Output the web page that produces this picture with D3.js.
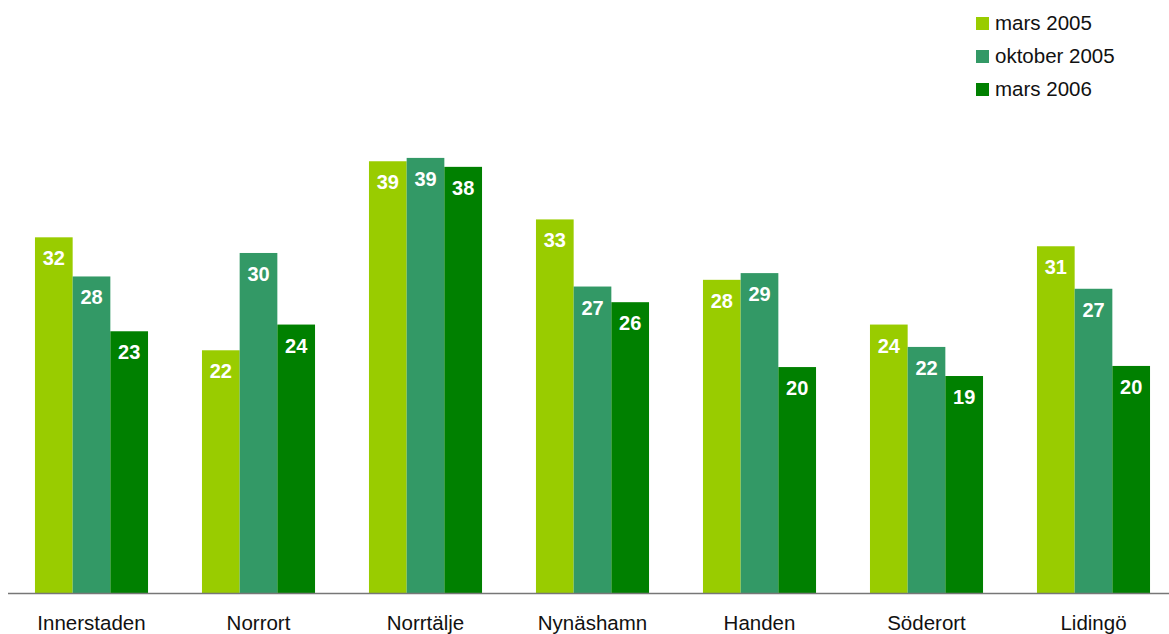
<!DOCTYPE html>
<html>
<head>
<meta charset="utf-8">
<script src="https://cdn.jsdelivr.net/npm/d3@7"></script>
<style>
  html, body { margin: 0; padding: 0; background: #fff; }
  svg { display: block; }
</style>
</head>
<body>
<svg id="chart" width="1169" height="634"></svg>
<script>
const categories = ["Innerstaden", "Norrort", "Norrtälje", "Nynäshamn", "Handen", "Söderort", "Lidingö"];
const seriesNames = ["mars 2005", "oktober 2005", "mars 2006"];
const seriesColors = ["#99cc00", "#339966", "#008000"];
const mars2005 = [31.8, 21.7, 38.6, 33.4, 28.0, 24.0, 31.0];
const oktober2005 = [28.3, 30.4, 38.9, 27.4, 28.6, 22.0, 27.2];
const mars2006 = [23.4, 24.0, 38.1, 26.0, 20.2, 19.4, 20.3];
const seriesValues = [mars2005, oktober2005, mars2006];

const svg = d3.select("#chart");
const baseY = 593;
const font = "'Liberation Sans', Arial, sans-serif";

const x0 = d3.scaleBand().domain(categories).range([8, 1177]).paddingInner(0.323).paddingOuter(0.1615);
const x1 = d3.scaleBand().domain(seriesNames).range([0, x0.bandwidth()]).padding(0);
const y = d3.scaleLinear().domain([0, 50]).range([baseY, baseY - 50 * 11.185]);

const data = [];
categories.forEach((c, i) => {
  seriesNames.forEach((s, j) => {
    data.push({ cat: c, series: s, value: seriesValues[j][i], color: seriesColors[j] });
  });
});

const g = svg.append("g");
g.selectAll("rect.bar").data(data).enter().append("rect")
  .attr("class", "bar")
  .attr("x", d => x0(d.cat) + x1(d.series))
  .attr("width", x1.bandwidth())
  .attr("y", d => y(d.value))
  .attr("height", d => baseY - y(d.value))
  .attr("fill", d => d.color);

g.selectAll("text.val").data(data).enter().append("text")
  .attr("class", "val")
  .attr("x", d => x0(d.cat) + x1(d.series) + x1.bandwidth() / 2)
  .attr("y", d => y(d.value) + 28)
  .attr("text-anchor", "middle")
  .attr("font-family", font)
  .attr("font-weight", "bold")
  .attr("font-size", "20px")
  .attr("fill", "#ffffff")
  .text(d => d3.format(".0f")(d.value));

// axis
const xAxis = d3.axisBottom(x0).tickSize(0).tickPadding(0);
const ax = svg.append("g").attr("transform", `translate(0,${baseY})`).call(xAxis);
ax.select(".domain").remove();
ax.append("line").attr("x1", 8).attr("x2", 1169).attr("y1", 0.5).attr("y2", 0.5)
  .attr("stroke", "#777").attr("stroke-width", 1.5);
ax.selectAll(".tick text")
  .attr("y", 37).attr("dy", null)
  .attr("font-family", font).attr("font-size", "20.5px").attr("fill", "#111");

// legend
const legend = svg.append("g").attr("transform", "translate(976,0)");
seriesNames.forEach((s, i) => {
  const row = legend.append("g").attr("transform", `translate(0,${17 + i * 33})`);
  row.append("rect").attr("width", 13).attr("height", 13).attr("fill", seriesColors[i]);
  row.append("text").attr("x", 19).attr("y", 13)
    .attr("font-family", font).attr("font-size", "20.5px").attr("fill", "#111").text(s);
});
</script>
</body>
</html>
